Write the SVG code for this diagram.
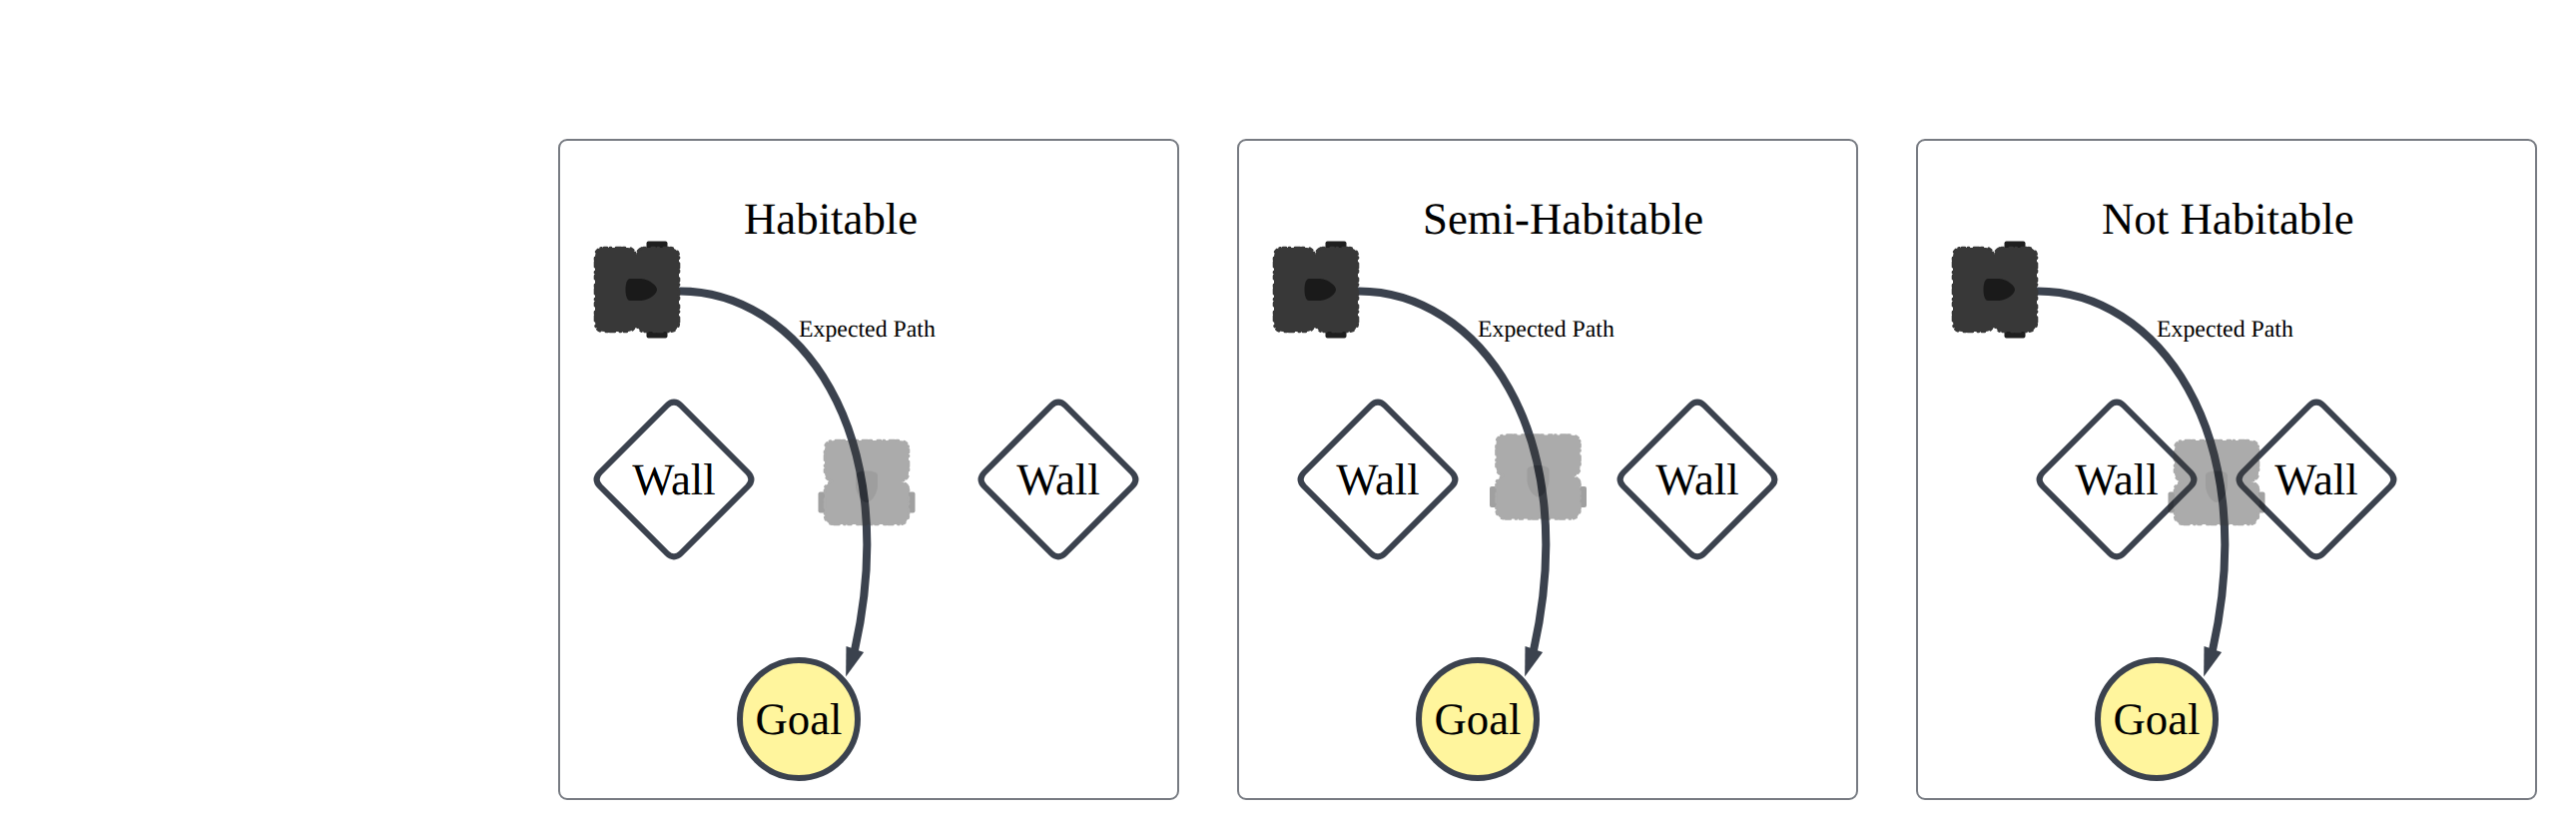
<svg xmlns="http://www.w3.org/2000/svg" width="2580" height="840" viewBox="0 0 2580 840">
<style>
text{font-family:"Liberation Serif","Times New Roman",serif;fill:#000;text-rendering:geometricPrecision}
.panel{fill:#fff;stroke:#777b82;stroke-width:2}
.title{font-size:44.800px}
.lbl{font-size:44.800px;text-anchor:middle}
.edge{font-size:23.800px}
.wall{fill:#fff;stroke:#3b424e;stroke-width:6;stroke-linejoin:round}
.goal{fill:#fff59d;stroke:#3b424e;stroke-width:6}
.link{fill:none;stroke:#3b424e;stroke-width:8}
.ghost{opacity:.42}
</style>
<defs>
<marker id="ah" markerUnits="userSpaceOnUse" markerWidth="40" markerHeight="40" refX="0" refY="9.3" orient="108.4" overflow="visible"><path d="M-1 0L28 9.3L-1 18.6Z" fill="#3b424e"/></marker>
<path id="wall-shape" class="wall" d="M-7 -74Q0 -81 7 -74L74 -7Q81 0 74 7L7 74Q0 81 -7 74L-74 7Q-81 0 -74 -7Z"/>
<g id="robot">
<rect x="9.5" y="-48.5" width="21" height="7" rx="2" fill="#1f1f1f"/>
<rect x="9.5" y="41.5" width="21" height="7" rx="2" fill="#1f1f1f"/>
<path d="M-33 -42L-9 -42Q-4 -42 -1 -35Q2 -42 7 -42L32 -42Q42 -42 42 -32L42 32Q42 42 32 42L7 42Q2 42 -1 35Q-4 42 -9 42L-33 42Q-42 42 -42 32L-42 -32Q-42 -42 -33 -42Z" fill="#383838" stroke="#383838" stroke-width="2.6" stroke-linecap="round" stroke-linejoin="round" stroke-dasharray="3 3 1 5 5 2 2 6"/>
<path d="M-7 -11L4 -11C13 -10 20 -4 20 0C20 4 13 10 4 11L-7 11C-10 11 -11.500 6 -11.500 0C-11.500 -6 -10 -11 -7 -11Z" fill="#1a1a1a"/>
</g>
</defs>
<g id="panel-habitable"><rect class="panel" x="560" y="140" width="620" height="660" rx="8"/><text class="title" x="745" y="234">Habitable</text></g>
<g id="panel-semi"><rect class="panel" x="1240" y="140" width="620" height="660" rx="8"/><text class="title" x="1425" y="234">Semi-Habitable</text></g>
<g id="panel-not"><rect class="panel" x="1920" y="140" width="620" height="660" rx="8"/><text class="title" x="2105" y="234">Not Habitable</text></g>

<g id="wall-1a"><use href="#wall-shape" x="675" y="480"/><text class="lbl" x="675" y="495">Wall</text></g>
<g id="wall-1b"><use href="#wall-shape" x="1060" y="480"/><text class="lbl" x="1060" y="495">Wall</text></g>
<g id="wall-2a"><use href="#wall-shape" x="1380" y="480"/><text class="lbl" x="1380" y="495">Wall</text></g>
<g id="wall-2b"><use href="#wall-shape" x="1700" y="480"/><text class="lbl" x="1700" y="495">Wall</text></g>
<g id="wall-3a"><use href="#wall-shape" x="2120" y="480"/><text class="lbl" x="2120" y="495">Wall</text></g>
<g id="wall-3b"><use href="#wall-shape" x="2320" y="480"/><text class="lbl" x="2320" y="495">Wall</text></g>

<g id="goal-1"><circle class="goal" cx="800" cy="720" r="59"/><text class="lbl" x="800" y="735">Goal</text></g>
<g id="goal-2"><circle class="goal" cx="1480" cy="720" r="59"/><text class="lbl" x="1480" y="735">Goal</text></g>
<g id="goal-3"><circle class="goal" cx="2160" cy="720" r="59"/><text class="lbl" x="2160" y="735">Goal</text></g>

<g id="connectors">
<path class="link" marker-end="url(#ah)" d="M680 291.500C800 291 905 432 856 651"/>
<path class="link" marker-end="url(#ah)" d="M1360 291.500C1480 291 1585 432 1536 651"/>
<path class="link" marker-end="url(#ah)" d="M2040 291.500C2160 291 2265 432 2216 651"/>
</g>
<text class="edge" x="800" y="337">Expected Path</text>
<text class="edge" x="1480" y="337">Expected Path</text>
<text class="edge" x="2160" y="337">Expected Path</text>

<g id="robot-1"><use href="#robot" transform="translate(638 290)"/></g>
<g id="robot-2"><use href="#robot" transform="translate(1318 290)"/></g>
<g id="robot-3"><use href="#robot" transform="translate(1998 290)"/></g>
<g id="ghost-1" class="ghost"><use href="#robot" transform="translate(868 483) rotate(90)"/></g>
<g id="ghost-2" class="ghost"><use href="#robot" transform="translate(1540.500 477.500) rotate(90)"/></g>
<g id="ghost-3" class="ghost"><use href="#robot" transform="translate(2220 483) rotate(90)"/></g>
</svg>
